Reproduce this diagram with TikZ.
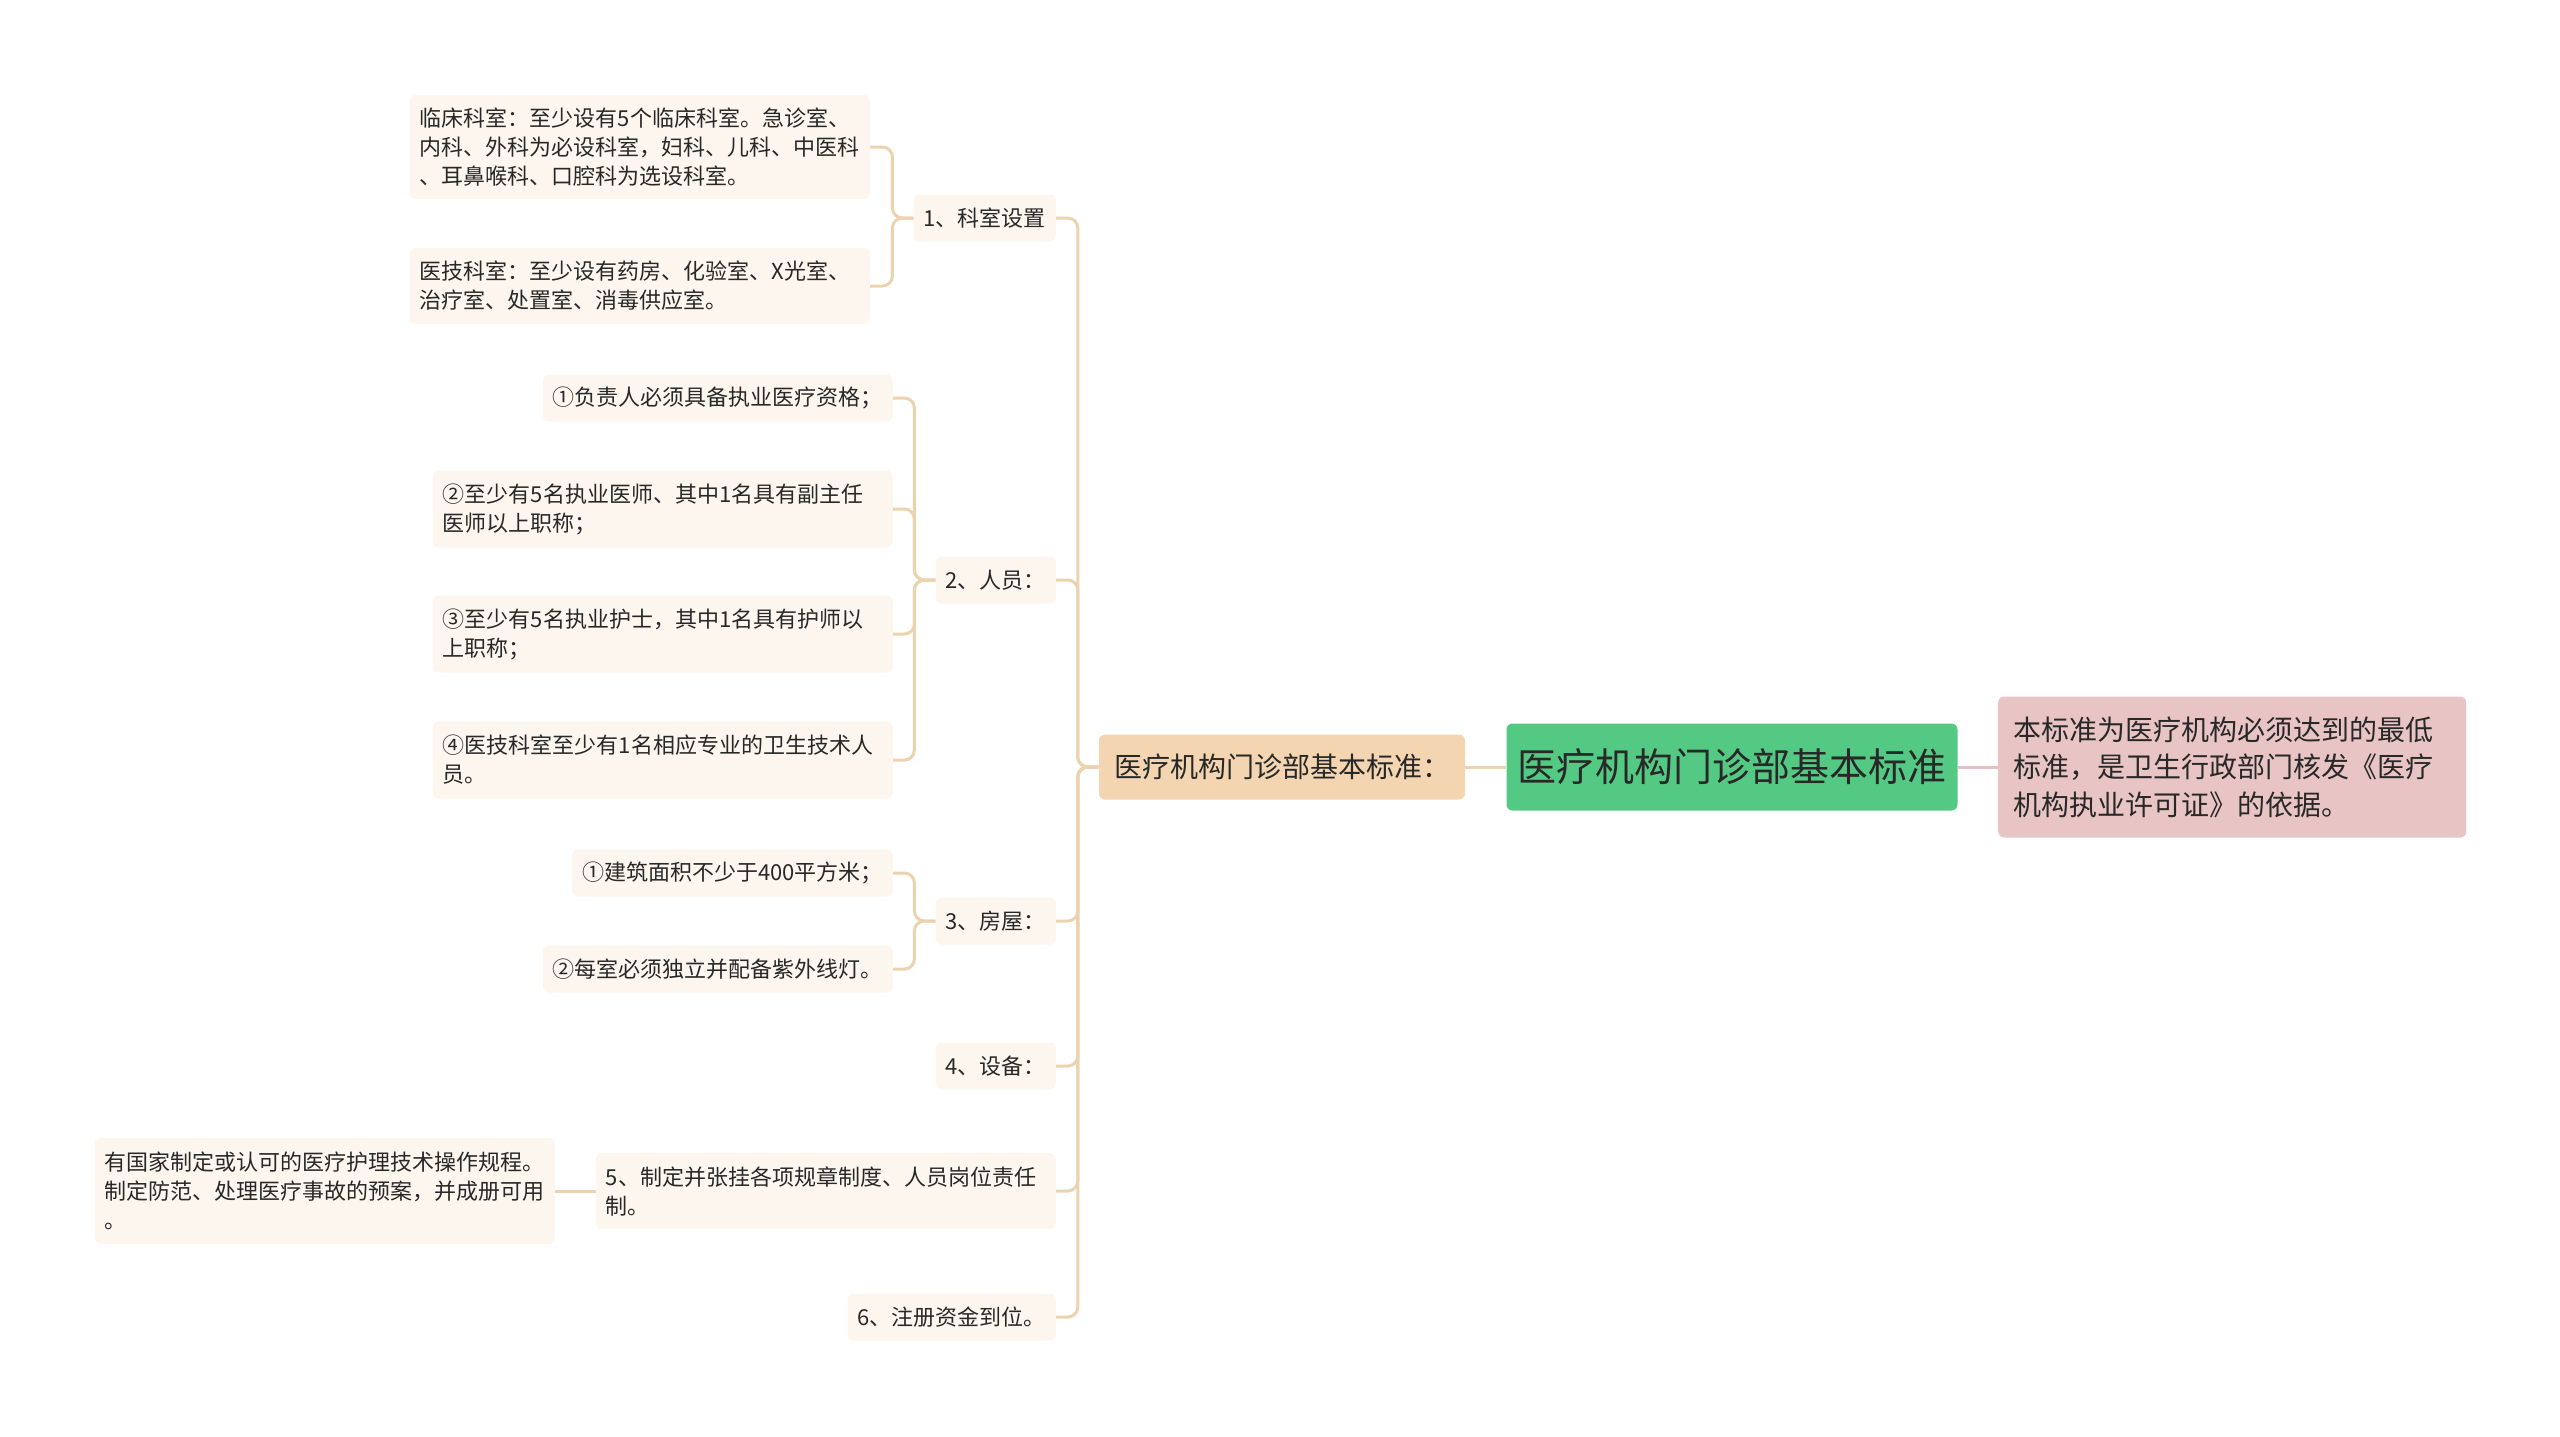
\documentclass[tikz,border=0pt]{standalone}
\usepackage{fontspec}
\newfontfamily\cjk{Noto Sans CJK SC}
\definecolor{rootgreen}{RGB}{84,201,131}
\definecolor{notepink}{RGB}{232,196,196}
\definecolor{tanfill}{RGB}{243,214,177}
\definecolor{cream}{RGB}{253,246,238}
\definecolor{linktan}{RGB}{236,211,176}
\definecolor{linkpink}{RGB}{230,192,192}
\definecolor{txt}{RGB}{40,40,40}
\begin{document}
\begin{tikzpicture}[x=1pt,y=-1pt,
  every node/.style={text=txt},
  leaf/.style={fill=cream, rounded corners=6, inner xsep=10, inner ysep=0,
    minimum height=47, font=\cjk\fontsize{22}{29}\selectfont, align=left},
  multi/.style={text width=440},
  link/.style={draw=linktan, line width=3},
  rootbox/.style={fill=rootgreen, rounded corners=6, minimum width=451, minimum height=87,
    font=\cjk\fontsize{39}{46}\selectfont},
  l1box/.style={fill=tanfill, rounded corners=6, minimum width=366, minimum height=65,
    font=\cjk\fontsize{28}{34}\selectfont},
  notebox/.style={fill=notepink, rounded corners=6, inner xsep=15, inner ysep=0,
    minimum height=141, text width=438, align=left,
    font=\cjk\fontsize{28}{37.6}\selectfont}
]
\useasboundingbox (0,0) rectangle (2560,1437);

% main nodes
\node[rootbox] (root) at (1732,767) {医疗机构门诊部基本标准};
\node[notebox, anchor=west] (note) at (1998,767) {本标准为医疗机构必须达到的最低\\标准，是卫生行政部门核发《医疗\\机构执业许可证》的依据。};
\node[l1box] (tan) at (1282,767) {医疗机构门诊部基本标准：};

% level 2
\node[leaf, anchor=east] (n1) at (1056,218) {1、科室设置};
\node[leaf, anchor=east] (n2) at (1056,580) {2、人员：};
\node[leaf, anchor=east] (n3) at (1056,921) {3、房屋：};
\node[leaf, anchor=east] (n4) at (1056,1066) {4、设备：};
\node[leaf, multi, anchor=east, minimum height=76] (n5) at (1056,1191) {5、制定并张挂各项规章制度、人员岗位责任\\制。};
\node[leaf, anchor=east] (n6) at (1056,1317) {6、注册资金到位。};

% level 3
\node[leaf, multi, anchor=east, minimum height=104] (c11) at (870,147) {临床科室：至少设有5个临床科室。急诊室、\\内科、外科为必设科室，妇科、儿科、中医科\\、耳鼻喉科、口腔科为选设科室。};
\node[leaf, multi, anchor=east, minimum height=76] (c12) at (870,286) {医技科室：至少设有药房、化验室、X光室、\\治疗室、处置室、消毒供应室。};

\node[leaf, anchor=east] (c21) at (893,398) {①负责人必须具备执业医疗资格；};
\node[leaf, multi, anchor=east, minimum height=77] (c22) at (893,509) {②至少有5名执业医师、其中1名具有副主任\\医师以上职称；};
\node[leaf, multi, anchor=east, minimum height=77] (c23) at (893,634) {③至少有5名执业护士，其中1名具有护师以\\上职称；};
\node[leaf, multi, anchor=east, minimum height=77] (c24) at (893,760) {④医技科室至少有1名相应专业的卫生技术人\\员。};

\node[leaf, anchor=east] (c31) at (893,873) {①建筑面积不少于400平方米；};
\node[leaf, anchor=east] (c32) at (893,969) {②每室必须独立并配备紫外线灯。};

\node[leaf, multi, anchor=east, minimum height=106] (c51) at (555,1191) {有国家制定或认可的医疗护理技术操作规程。\\制定防范、处理医疗事故的预案，并成册可用\\。};

% connectors
\draw[link] (tan.east) -- (root.west);
\draw[link, draw=linkpink] (root.east) -- (note.west);

\coordinate (bm) at ([xshift=-21]tan.west);
\foreach \c in {n1,n2,n3,n4,n5,n6}
  \draw[link] (\c.east) [rounded corners=10] -| (bm) [sharp corners] -- (tan.west);

\coordinate (b1) at ([xshift=-21]n1.west);
\foreach \c in {c11,c12}
  \draw[link] (\c.east) [rounded corners=10] -| (b1) [sharp corners] -- (n1.west);

\coordinate (b2) at ([xshift=-21]n2.west);
\foreach \c in {c21,c22,c23,c24}
  \draw[link] (\c.east) [rounded corners=10] -| (b2) [sharp corners] -- (n2.west);

\coordinate (b3) at ([xshift=-21]n3.west);
\foreach \c in {c31,c32}
  \draw[link] (\c.east) [rounded corners=10] -| (b3) [sharp corners] -- (n3.west);

\draw[link] (c51.east) -- (n5.west);
\end{tikzpicture}
\end{document}
